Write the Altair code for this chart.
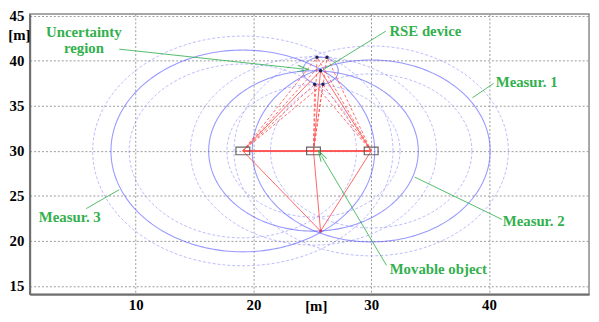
import altair as alt
import numpy as np
import pandas as pd

# ---- data ----
meas_names = ["Measur. 1", "Measur. 2", "Measur. 3"]
base_x = [30.0, 25.1, 19.1]          # circle centres (reference points on y=30)
base_y = [30.0, 30.0, 30.0]
radii = [10.1, 8.9, 11.2]            # measured distances
band = 1.55                          # uncertainty band (+/-)

rse_x, rse_y = 25.7, 38.9            # RSE device
mirror_x, mirror_y = 25.7, 21.1      # mirrored (movable object) solution
unc_r = 1.5                          # uncertainty region radius
corner_x = [25.4, 26.25, 25.2, 25.9] # intersection dots of the bands
corner_y = [40.4, 40.4, 37.4, 37.4]

# annotation texts (data coordinates)
ann_text = ["Uncertainty", "region", "RSE device", "Measur. 1", "Measur. 2", "Measur. 3", "Movable object"]
ann_x = [5.6, 5.6, 34.6, 43.2, 43.8, 4.4, 35.7]
ann_y = [43.2, 41.4, 43.3, 37.6, 22.2, 22.7, 16.9]
# leader lines (from, to)
lead_x1 = [8.6, 31.25, 40.4, 41.1, 5.8, 31.3]
lead_y1 = [41.3, 43.3, 37.5, 22.4, 23.6, 17.3]
lead_x2 = [24.2, 25.9, 38.6, 33.7, 8.6, 25.75]
lead_y2 = [39.1, 39.0, 35.9, 27.1, 25.7, 29.5]
arrow_x = [24.2, 25.75]
arrow_y = [39.1, 29.5]
arrow_angle = [96, 330]

X_DOM = [1, 48.5]
Y_DOM = [14.1, 45.2]
FONT = "Liberation Serif"
GREEN = "#33b04e"
RED = "#ff4a4a"

# ---- circle geometry from centre and radius ----
t = np.linspace(0, 2 * np.pi, 241)
rows = []
cid = 0
for cx, cy, r in zip(base_x, base_y, radii):
    for kind, rr in (("solid", r), ("dash", r - band), ("dash", r + band)):
        for i, a in enumerate(t):
            rows.append({"id": cid, "kind": kind, "i": i,
                         "x": cx + rr * np.cos(a), "y": cy + rr * np.sin(a)})
        cid += 1
for i, a in enumerate(t):
    rows.append({"id": cid, "kind": "unc", "i": i,
                 "x": rse_x + unc_r * np.cos(a), "y": rse_y + unc_r * np.sin(a)})
circ = pd.DataFrame(rows)

xs = alt.Scale(domain=X_DOM, nice=False, zero=False)
ys = alt.Scale(domain=Y_DOM, nice=False, zero=False)

xaxis = alt.Axis(values=[10, 20, 30, 40], grid=True, gridDash=[2, 2], gridColor="#9a9a9a",
                 gridOpacity=1, ticks=False, domainColor="#6e6e6e", domainWidth=2,
                 labelFont=FONT, labelFontWeight="bold", labelFontSize=15, labelColor="black",
                 labelPadding=4, title="[m]", titleFont=FONT, titleFontWeight="bold",
                 titleFontSize=15, titleColor="black", titleX=290, titleY=12,
                 titleBaseline="middle", titleAlign="center", titlePadding=0)
yaxis = alt.Axis(values=[15, 20, 25, 30, 35, 40, 45], grid=True, gridDash=[2, 2],
                 gridColor="#9a9a9a", gridOpacity=1, ticks=False, domainColor="#6e6e6e",
                 domainWidth=2, labelFont=FONT, labelFontWeight="bold", labelFontSize=15,
                 labelColor="black", labelPadding=6, title="[m]", titleFont=FONT,
                 titleFontWeight="bold", titleFontSize=15, titleColor="black", titleAngle=0,
                 titleX=-11, titleY=21, titleAlign="center", titleBaseline="middle")

X = lambda f="x": alt.X(f"{f}:Q", scale=xs, axis=xaxis)
Y = lambda f="y": alt.Y(f"{f}:Q", scale=ys, axis=yaxis)

base = alt.Chart(circ)
solid = base.transform_filter("datum.kind == 'solid'").mark_line(
    color="#5555ff", strokeWidth=1.1, opacity=0.6, clip=True).encode(
    x=X(), y=Y(), detail="id:N", order="i:Q")
dash = base.transform_filter("datum.kind == 'dash'").mark_line(
    color="#7777ff", strokeWidth=1, opacity=0.5, strokeDash=[3, 2], clip=True).encode(
    x=X(), y=Y(), detail="id:N", order="i:Q")
unc = base.transform_filter("datum.kind == 'unc'").mark_line(
    color="#4a4aee", strokeWidth=1, opacity=0.75, clip=True).encode(
    x=X(), y=Y(), detail="id:N", order="i:Q")

# red lines
dash_rows = [{"x": bx, "y": by, "x2": cx, "y2": cy}
             for bx, by in zip(base_x, base_y) for cx, cy in zip(corner_x, corner_y)]
red_dash = alt.Chart(pd.DataFrame(dash_rows)).mark_rule(
    color=RED, strokeWidth=1, strokeDash=[3, 2], opacity=0.8).encode(
    x=X(), y=Y(), x2="x2:Q", y2="y2:Q")
solid_rows = [{"x": bx, "y": by, "x2": rse_x, "y2": rse_y} for bx, by in zip(base_x, base_y)]
solid_rows += [{"x": bx, "y": by, "x2": mirror_x, "y2": mirror_y} for bx, by in zip(base_x, base_y)]
red_solid = alt.Chart(pd.DataFrame(solid_rows)).mark_rule(
    color=RED, strokeWidth=1, opacity=0.85).encode(x=X(), y=Y(), x2="x2:Q", y2="y2:Q")
red_h = alt.Chart(pd.DataFrame({"x": [min(base_x)], "x2": [max(base_x)], "y": [30.0]})).mark_rule(
    color=RED, strokeWidth=2, opacity=0.9).encode(x=X(), y=Y(), x2="x2:Q")

boxes = alt.Chart(pd.DataFrame({"x": base_x, "y": base_y})).mark_point(
    shape="M-1,-0.55H1V0.55H-1Z", size=196, filled=False, color="#555555",
    strokeWidth=1.2, opacity=0.9).encode(x=X(), y=Y())

dots = alt.Chart(pd.DataFrame({"x": corner_x + [rse_x], "y": corner_y + [rse_y]})).mark_point(
    filled=True, size=12, color="#20204a", opacity=1).encode(x=X(), y=Y())
mdot = alt.Chart(pd.DataFrame({"x": [mirror_x], "y": [mirror_y]})).mark_point(
    filled=True, size=10, color="#c02050").encode(x=X(), y=Y())

leads = alt.Chart(pd.DataFrame({"x": lead_x1, "y": lead_y1, "x2": lead_x2, "y2": lead_y2})).mark_rule(
    color=GREEN, strokeWidth=1, opacity=0.85).encode(x=X(), y=Y(), x2="x2:Q", y2="y2:Q")
arrows = alt.Chart(pd.DataFrame({"x": arrow_x, "y": arrow_y, "a": arrow_angle})).mark_point(
    shape="M-0.6,1L0,-1L0.6,1", size=120, filled=False, color=GREEN, strokeWidth=1,
    opacity=0.9).encode(x=X(), y=Y(), angle=alt.Angle("a:Q", scale=None))

texts = alt.Chart(pd.DataFrame({"t": ann_text, "x": ann_x, "y": ann_y})).mark_text(
    font=FONT, fontWeight="bold", fontSize=15, color=GREEN, align="center",
    baseline="middle").encode(x=X(), y=Y(), text="t:N")

chart = alt.layer(dash, solid, unc, red_dash, red_solid, red_h, boxes, dots, mdot,
                  leads, arrows, texts).properties(
    width=567, height=284,
    autosize=alt.AutoSizeParams(type="none"),
    padding={"left": 22, "top": 4, "right": 2, "bottom": 18},
    background="white",
).configure_view(stroke="#8a8a8a", strokeWidth=1.5)

chart.save("out.html", embed_options={"renderer": "svg", "actions": False})
